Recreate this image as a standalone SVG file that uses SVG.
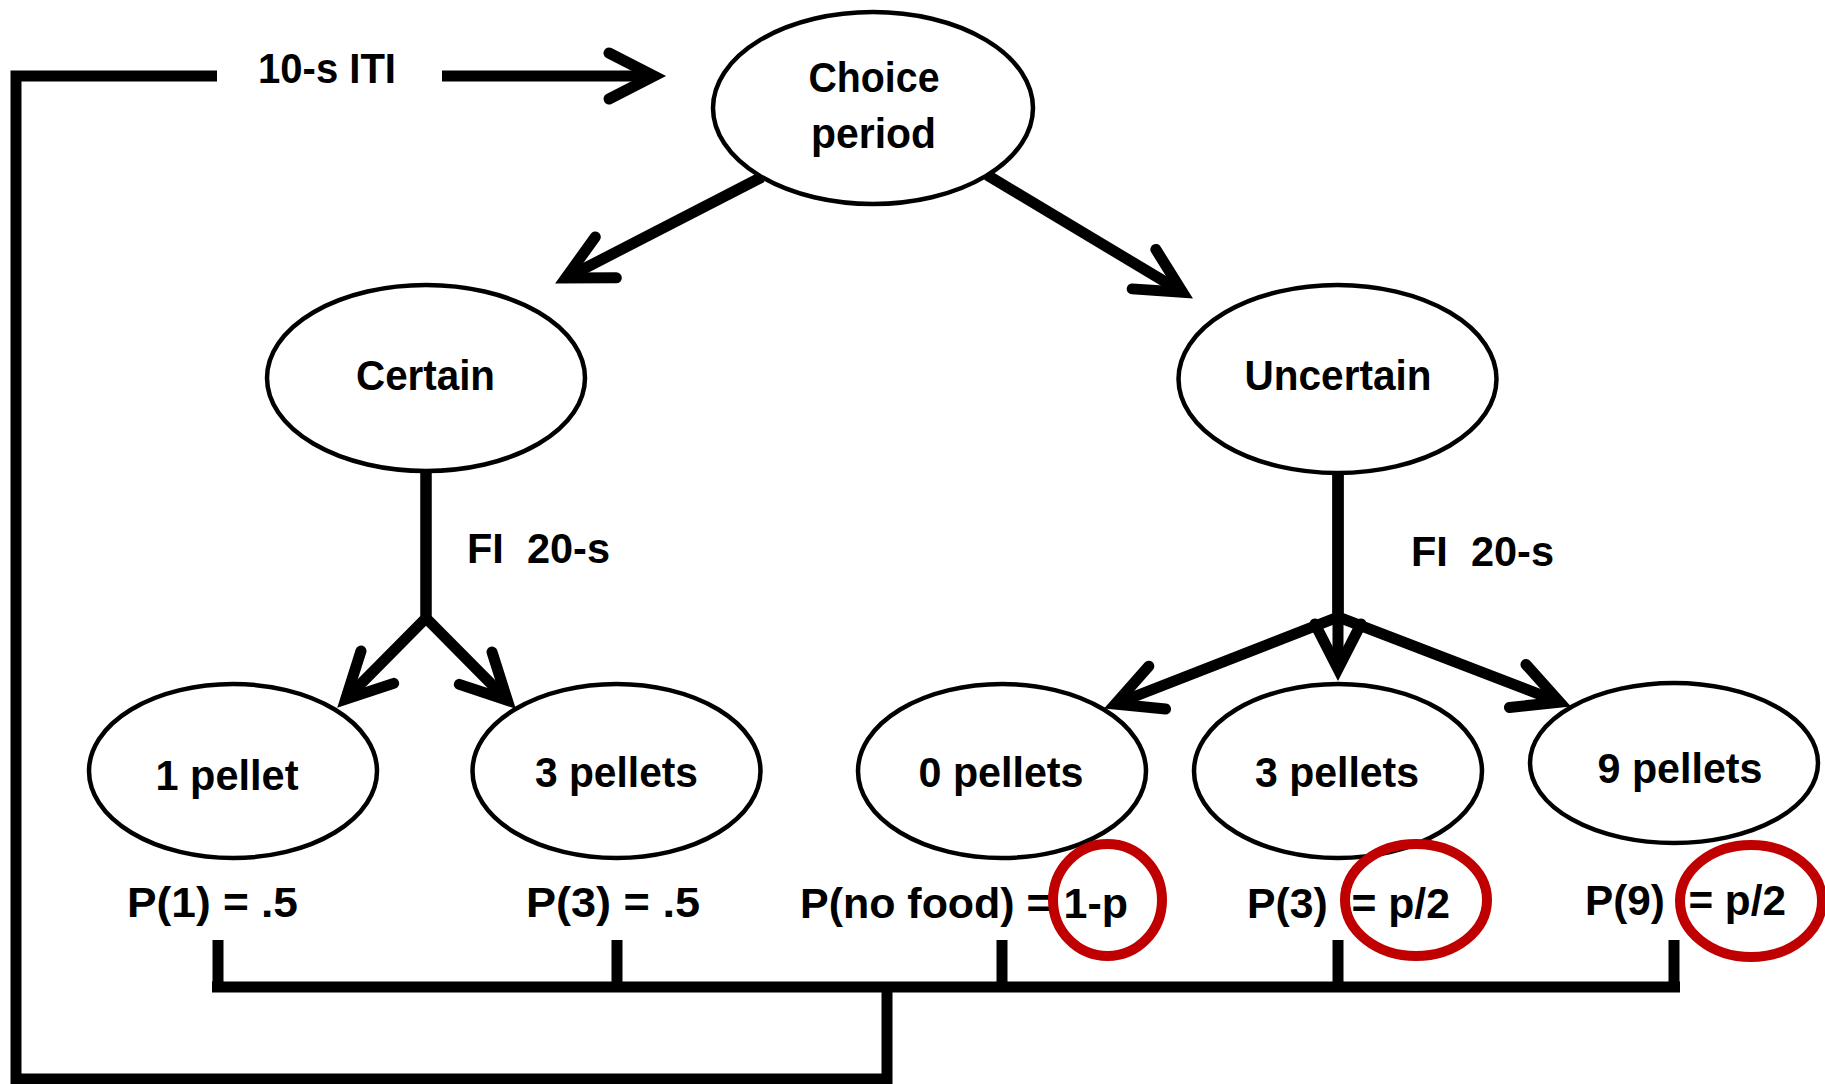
<svg xmlns="http://www.w3.org/2000/svg" width="1825" height="1084" viewBox="0 0 1825 1084">
  <style>
    .node { fill: #ffffff; stroke: #000000; stroke-width: 4.5; }
    .lbl { font-family: "Liberation Sans", Arial, sans-serif; font-weight: bold; font-size: 43px; fill: #000000; }
    .mid { text-anchor: middle; }
    .wire { fill: none; stroke: #000000; stroke-width: 11; stroke-linejoin: miter; stroke-linecap: butt; }
    .bus { fill: none; stroke: #000000; stroke-width: 11; }
    .arrow { marker-end: url(#chev); }
    .ring { fill: none; stroke: #c00000; stroke-width: 10; }
  </style>
  <defs>
    <marker id="chev" markerUnits="userSpaceOnUse" orient="auto" refX="0" refY="0"
            markerWidth="80" markerHeight="80" viewBox="-60 -40 80 80" overflow="visible">
      <path d="M-45,-23 L0,0 L-45,23" fill="none" stroke="#000000" stroke-width="11"
            stroke-linecap="round" stroke-linejoin="miter"/>
    </marker>
  </defs>

  <rect width="1825" height="1084" fill="#ffffff"/>

  <!-- connectors -->
  <g id="connectors">
    <!-- return loop: collector bus back to the start of the trial -->
    <path class="wire" d="M887,987 V1079 H16 V76 H217"/>
    <path class="wire arrow" d="M442,76 L654,76"/>
    <!-- choice to the two options -->
    <path class="wire arrow" d="M762,177 L565.8,278"/>
    <path class="wire arrow" d="M987,175 L1182.6,292.3"/>
    <!-- certain branch -->
    <path class="wire arrow" d="M426,473 L426,618 L345.7,699.2"/>
    <path class="wire arrow" d="M426,473 L426,618 L507.3,700.2"/>
    <!-- uncertain branch -->
    <path class="wire arrow" d="M1338,475 L1338,617 L1115.3,704"/>
    <path class="wire arrow" d="M1338,475 L1338,669"/>
    <path class="wire arrow" d="M1338,475 L1338,617 L1559.7,702.1"/>
    <!-- outcome collector -->
    <path class="bus" d="M212,987 H1680"/>
    <path class="bus" d="M218,940 V987 M617,940 V987 M1002,940 V987 M1338,940 V987 M1674,940 V987"/>
  </g>

  <g id="node-choice">
    <ellipse class="node" cx="873" cy="108" rx="160" ry="96"/>
    <text class="lbl mid" x="874" y="92" textLength="131" lengthAdjust="spacingAndGlyphs">Choice</text>
    <text class="lbl mid" x="873.5" y="148" textLength="125" lengthAdjust="spacingAndGlyphs">period</text>
  </g>

  <g id="node-certain">
    <ellipse class="node" cx="426" cy="378" rx="159" ry="93"/>
    <text class="lbl mid" x="425.5" y="390" textLength="139" lengthAdjust="spacingAndGlyphs">Certain</text>
  </g>

  <g id="node-uncertain">
    <ellipse class="node" cx="1337.5" cy="379" rx="159" ry="94"/>
    <text class="lbl mid" x="1338" y="390" textLength="187" lengthAdjust="spacingAndGlyphs">Uncertain</text>
  </g>

  <g id="node-one-pellet">
    <ellipse class="node" cx="233" cy="771" rx="144" ry="87"/>
    <text class="lbl mid" x="227" y="790" textLength="143" lengthAdjust="spacingAndGlyphs">1 pellet</text>
  </g>

  <g id="node-three-pellets-certain">
    <ellipse class="node" cx="616.5" cy="771" rx="144" ry="87"/>
    <text class="lbl mid" x="616.5" y="787" textLength="163" lengthAdjust="spacingAndGlyphs">3 pellets</text>
  </g>

  <g id="node-zero-pellets">
    <ellipse class="node" cx="1002" cy="771" rx="144" ry="87"/>
    <text class="lbl mid" x="1001" y="787" textLength="165" lengthAdjust="spacingAndGlyphs">0 pellets</text>
  </g>

  <g id="node-three-pellets-uncertain">
    <ellipse class="node" cx="1338" cy="771" rx="144" ry="87"/>
    <text class="lbl mid" x="1337" y="787" textLength="164" lengthAdjust="spacingAndGlyphs">3 pellets</text>
  </g>

  <g id="node-nine-pellets">
    <ellipse class="node" cx="1674" cy="763" rx="144" ry="80"/>
    <text class="lbl mid" x="1680" y="783" textLength="165" lengthAdjust="spacingAndGlyphs">9 pellets</text>
  </g>

  <!-- edge labels and outcome probabilities -->
  <g id="labels">
    <text class="lbl" x="258" y="83" textLength="138" lengthAdjust="spacingAndGlyphs">10-s ITI</text>
    <text class="lbl" x="467" y="563" xml:space="preserve" textLength="143" lengthAdjust="spacingAndGlyphs">FI  20-s</text>
    <text class="lbl" x="1411" y="566" xml:space="preserve" textLength="143" lengthAdjust="spacingAndGlyphs">FI  20-s</text>
    <text class="lbl" x="127" y="917" textLength="171" lengthAdjust="spacingAndGlyphs">P(1) = .5</text>
    <text class="lbl" x="526" y="917" textLength="174" lengthAdjust="spacingAndGlyphs">P(3) = .5</text>
    <text class="lbl" x="800" y="918" textLength="328" lengthAdjust="spacingAndGlyphs">P(no food) = 1-p</text>
    <text class="lbl" x="1247" y="918" xml:space="preserve" textLength="203" lengthAdjust="spacingAndGlyphs">P(3)  = p/2</text>
    <text class="lbl" x="1585" y="915" xml:space="preserve" textLength="201" lengthAdjust="spacingAndGlyphs">P(9)  = p/2</text>
  </g>

  <!-- red highlight rings around the uncertain probabilities -->
  <g id="highlights">
    <ellipse class="ring" cx="1107.5" cy="900" rx="54.5" ry="56"/>
    <ellipse class="ring" cx="1416" cy="900" rx="71" ry="56"/>
    <ellipse class="ring" cx="1751" cy="901" rx="71" ry="56"/>
  </g>
</svg>
